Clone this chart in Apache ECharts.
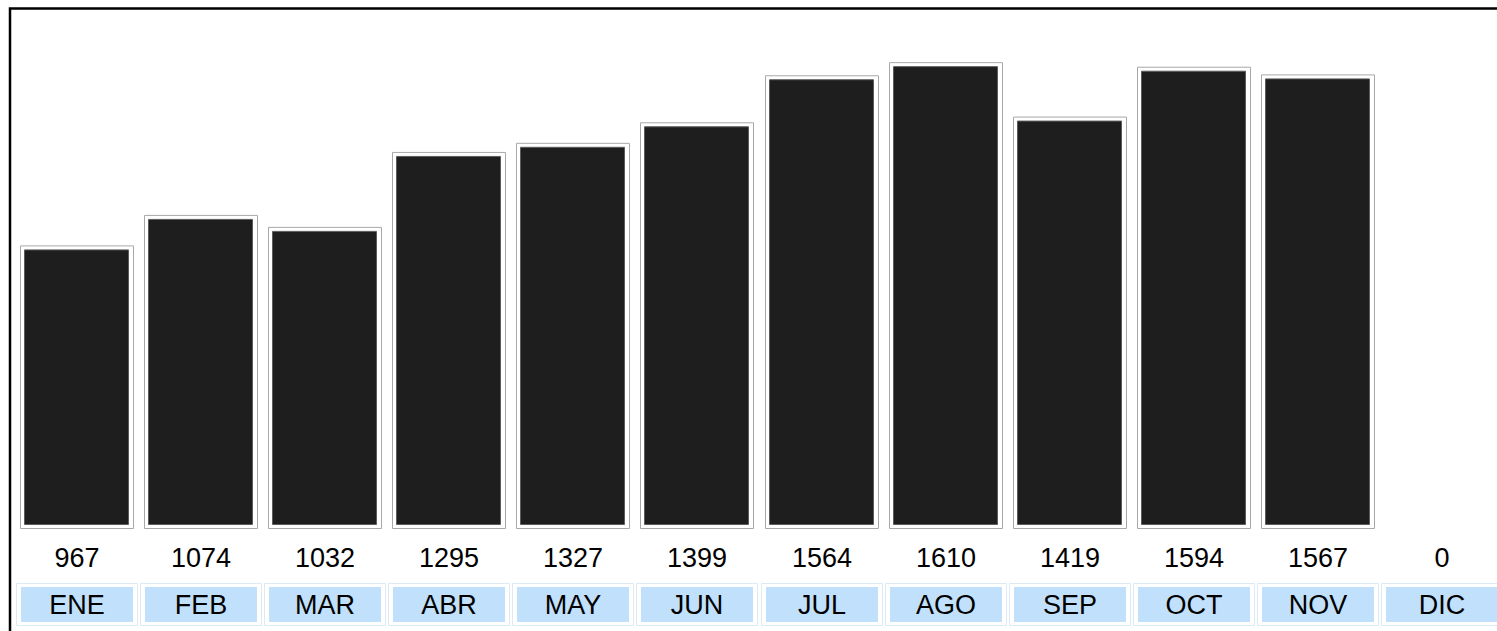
<!DOCTYPE html>
<html>
<head>
<meta charset="utf-8">
<script src="https://cdn.jsdelivr.net/npm/echarts@6/dist/echarts.min.js"></script>
<style>
html,body{margin:0;padding:0;background:#fff;overflow:hidden;}
#chart{width:1497px;height:631px;}
</style>
</head>
<body>
<div id="chart"></div>
<script>
const categories = ['ENE','FEB','MAR','ABR','MAY','JUN','JUL','AGO','SEP','OCT','NOV','DIC'];
const values = [967,1074,1032,1295,1327,1399,1564,1610,1419,1594,1567,0];

const FONT = '"Liberation Sans", Arial, sans-serif';
const chart = echarts.init(document.getElementById('chart'), null, {renderer: 'svg'});

function renderItem(params, api) {
  const i = api.value(0);
  const v = api.value(1);
  const top = api.coord([i, v]);
  const base = api.coord([i, 0]);
  const cx = Math.round(base[0]);
  const by = base[1];
  const children = [];
  if (v > 0) {
    const h = by - top[1];
    children.push({
      type: 'rect',
      shape: {x: cx - 56.5, y: top[1] - 3.5, width: 113, height: h + 7},
      style: {fill: '#ffffff', stroke: '#a8a8a8', lineWidth: 1}
    });
    children.push({
      type: 'rect',
      shape: {x: cx - 52.5, y: top[1] + 0.5, width: 104, height: h - 1},
      style: {fill: '#1e1e1e', stroke: '#5c5c5c', lineWidth: 1}
    });
  }
  children.push({
    type: 'text',
    style: {
      x: cx, y: by + 33, text: String(v), align: 'center', verticalAlign: 'middle',
      fontSize: 27, fontFamily: FONT, fill: '#000'
    }
  });
  children.push({
    type: 'rect',
    shape: {x: cx - 60.5, y: by + 58.5, width: 121, height: 42},
    style: {fill: '#ffffff', stroke: '#dceaf6', lineWidth: 1}
  });
  children.push({
    type: 'rect',
    shape: {x: cx - 56, y: by + 62, width: 112, height: 35},
    style: {fill: '#c0e0fc', stroke: null}
  });
  children.push({
    type: 'text',
    style: {
      x: cx, y: by + 79.5, text: categories[i], align: 'center', verticalAlign: 'middle',
      fontSize: 27, fontFamily: FONT, fill: '#000'
    }
  });
  return {type: 'group', children: children};
}

chart.setOption({
  animation: false,
  backgroundColor: '#ffffff',
  grid: {left: 15, top: 12, width: 1489, height: 513, outerBoundsMode: 'none', containLabel: false},
  xAxis: {type: 'category', data: categories, show: false},
  yAxis: {type: 'value', min: 0, max: 1800, show: false},
  graphic: [
    {type: 'rect', shape: {x: 10, y: 8.5, width: 1700, height: 800},
     style: {fill: 'none', stroke: '#000', lineWidth: 2.5}, silent: true, z: 10}
  ],
  series: [{
    type: 'custom',
    clip: false,
    renderItem: renderItem,
    data: values.map((v, i) => [i, v])
  }]
});
</script>
</body>
</html>
